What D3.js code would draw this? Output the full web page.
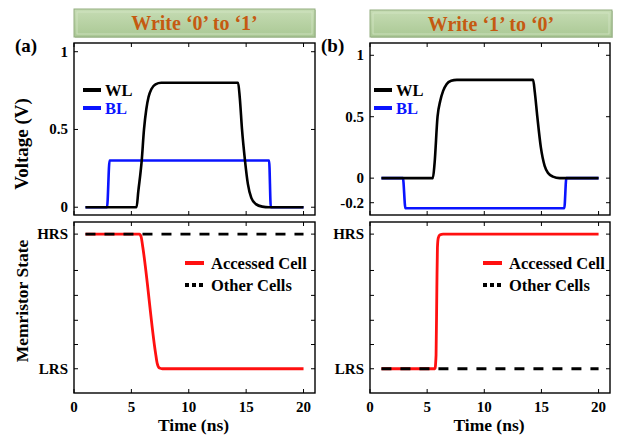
<!DOCTYPE html>
<html><head><meta charset="utf-8">
<script src="https://cdn.jsdelivr.net/npm/d3@7"></script>
<style>body{margin:0;background:#fff}svg{display:block}text{font-family:"Liberation Serif","Times New Roman",serif;font-weight:bold}</style>
</head><body>
<svg id="c" width="618" height="438"></svg>
<script>
// ---- data ----
const titles = ["Write \u20180\u2019 to \u20181\u2019", "Write \u20181\u2019 to \u20180\u2019"];
const panelLabels = ["(a)", "(b)"];
const xTicks = [0, 5, 10, 15, 20];
const vTicksA = [0, 0.5, 1];
const vTicksB = [-0.2, 0, 0.5, 1];
const stateTicks = [0, 1];
const stateTickLabels = ["LRS", "HRS"];
const stateMinorTicks = [0.18, 0.36, 0.545, 0.73];
// voltage waveforms [time ns, V]
const wlA = [[1,0],[5.45,0],[5.6,0.1],[5.9,0.3],[6.1,0.5],[6.3,0.63],[6.5,0.71],[6.75,0.76],[7.1,0.79],[7.6,0.8],[14.3,0.8],[14.45,0.7],[14.64,0.5],[14.9,0.3],[15.15,0.15],[15.45,0.06],[15.85,0.02],[16.4,0.004],[17,0],[20,0]];
const blA = [[1,0],[2.88,0],[3.1,0.3],[17.0,0.3],[17.15,0],[20,0]];
const wlB = [[1,0],[5.5,0],[5.65,0.12],[5.91,0.5],[6.15,0.63],[6.4,0.71],[6.7,0.765],[7.1,0.792],[7.6,0.8],[14.27,0.8],[14.42,0.7],[14.64,0.5],[14.95,0.25],[15.28,0.1],[15.6,0.04],[16.0,0.012],[16.6,0],[20,0]];
const blB = [[1,0],[2.88,0],[3.1,-0.245],[17.0,-0.245],[17.18,0],[20,0]];
// memristor state [time ns, state 0=LRS 1=HRS]
const accA = [[1,1],[5.7,1],[5.85,0.98],[6.0,0.9],[7.1,0.12],[7.25,0.04],[7.45,0.005],[7.7,0],[20,0]];
const othA = [[1,1],[20,1]];
const accB = [[1,0],[5.68,0],[5.78,0.1],[5.85,0.6],[5.9,0.9],[5.97,0.97],[6.1,0.993],[6.4,1],[20,1]];
const othB = [[1,0],[20,0]];
const legendTop = ["WL", "BL"];
const legendBottom = ["Accessed Cell", "Other Cells"];

const svg = d3.select("#c");
const defs = svg.append("defs");
const g = defs.append("linearGradient").attr("id","tg").attr("x1",0).attr("y1",0).attr("x2",0).attr("y2",1);
g.append("stop").attr("offset","0%").attr("stop-color","#c6dcb4");
g.append("stop").attr("offset","100%").attr("stop-color","#aac894");

const panels = [
  {x0:74, x1:315, vDom:[-0.05,1.056], vTicks:vTicksA, wl:wlA, bl:blA, acc:accA, oth:othA, tbox:[74,9,241,28], lbl:[15,52], legX:83, legBX:185},
  {x0:370, x1:610, vDom:[-0.3,1.1], vTicks:vTicksB, wl:wlB, bl:blB, acc:accB, oth:othB, tbox:[370,10,242,27], lbl:[321,52], legX:374, legBX:483}
];
const topY = [43,215], botY=[222,393];

function frame(x0,x1,y0,y1){
  svg.append("rect").attr("x",x0).attr("y",y0).attr("width",x1-x0).attr("height",y1-y0)
    .attr("fill","none").attr("stroke","#000").attr("stroke-width",1.4);
}
function ticksX(x, vals, y0, y1){
  vals.forEach(v=>{
    svg.append("line").attr("x1",x(v)).attr("x2",x(v)).attr("y1",y1).attr("y2",y1-4).attr("stroke","#000").attr("stroke-width",1);
    svg.append("line").attr("x1",x(v)).attr("x2",x(v)).attr("y1",y0).attr("y2",y0+4).attr("stroke","#000").attr("stroke-width",1);
  });
}
function ticksY(y, vals, x0, x1){
  vals.forEach(v=>{
    svg.append("line").attr("x1",x0).attr("x2",x0+4).attr("y1",y(v)).attr("y2",y(v)).attr("stroke","#000").attr("stroke-width",1);
    svg.append("line").attr("x1",x1).attr("x2",x1-4).attr("y1",y(v)).attr("y2",y(v)).attr("stroke","#000").attr("stroke-width",1);
  });
}

panels.forEach((p,i)=>{
  const x = d3.scaleLinear().domain([0,21]).range([p.x0,p.x1]);
  const yv = d3.scaleLinear().domain(p.vDom).range([topY[1],topY[0]]);
  const ys = d3.scaleLinear().domain([-0.18,1.09]).range([botY[1],botY[0]]);
  const lineV = d3.line().x(d=>x(d[0])).y(d=>yv(d[1])).curve(d3.curveMonotoneX);
  const lineS = d3.line().x(d=>x(d[0])).y(d=>ys(d[1])).curve(d3.curveMonotoneX);

  // title box
  const [bx,by,bw,bh] = p.tbox;
  svg.append("rect").attr("x",bx+1).attr("y",by+1).attr("width",bw).attr("height",bh).attr("fill","#c9d6bf");
  svg.append("rect").attr("x",bx).attr("y",by).attr("width",bw).attr("height",bh).attr("fill","url(#tg)").attr("stroke","#93ad80").attr("stroke-width",1);
  svg.append("rect").attr("x",bx+3).attr("y",by+3).attr("width",bw-6).attr("height",bh-6).attr("fill","none").attr("stroke","#d3e5c5").attr("stroke-width",1).attr("opacity",0.8);
  svg.append("text").attr("x",bx+bw/2).attr("y",by+bh/2+7).attr("text-anchor","middle").attr("font-size",20).attr("fill","#c55a11").text(titles[i]);
  svg.append("text").attr("x",p.lbl[0]).attr("y",p.lbl[1]).attr("font-size",19).attr("fill","#000").text(panelLabels[i]);

  // top panel
  frame(p.x0,p.x1,topY[0],topY[1]);
  ticksX(x, xTicks, topY[0], topY[1]);
  ticksY(yv, p.vTicks, p.x0, p.x1);
  p.vTicks.forEach(v=>{
    svg.append("text").attr("x",p.x0-6).attr("y",yv(v)+5).attr("text-anchor","end").attr("font-size",15).text(v);
  });
  svg.append("path").attr("d",lineV(p.bl)).attr("fill","none").attr("stroke","#0a14ff").attr("stroke-width",2.6);
  svg.append("path").attr("d",lineV(p.wl)).attr("fill","none").attr("stroke","#000").attr("stroke-width",2.6);
  // top legend
  const lcol = ["#000","#0a14ff"];
  legendTop.forEach((t,k)=>{
    const ly = 90 + k*18;
    svg.append("line").attr("x1",p.legX).attr("x2",p.legX+18).attr("y1",ly).attr("y2",ly).attr("stroke",lcol[k]).attr("stroke-width",4);
    svg.append("text").attr("x",p.legX+22).attr("y",ly+5.5).attr("font-size",16.5).attr("fill",lcol[k]).text(t);
  });

  // bottom panel
  frame(p.x0,p.x1,botY[0],botY[1]);
  ticksX(x, xTicks, botY[0], botY[1]);
  ticksY(ys, stateTicks.concat(stateMinorTicks), p.x0, p.x1);
  stateTicks.forEach((v,k)=>{
    svg.append("text").attr("x",p.x0-6).attr("y",ys(v)+5).attr("text-anchor","end").attr("font-size",15).text(stateTickLabels[k]);
  });
  xTicks.forEach(v=>{
    svg.append("text").attr("x",x(v)).attr("y",412).attr("text-anchor","middle").attr("font-size",15).text(v);
  });
  svg.append("text").attr("x",(x(0)+x(21))/2 - 1).attr("y",431).attr("text-anchor","middle").attr("font-size",17.5).text("Time (ns)");
  svg.append("path").attr("d",lineS(p.acc)).attr("fill","none").attr("stroke","#ff1010").attr("stroke-width",2.8);
  svg.append("path").attr("d",lineS(p.oth)).attr("fill","none").attr("stroke","#000").attr("stroke-width",2.8).attr("stroke-dasharray","10,9");
  // bottom legend
  legendBottom.forEach((t,k)=>{
    const ly = 263 + k*22;
    svg.append("line").attr("x1",p.legBX).attr("x2",p.legBX+19).attr("y1",ly).attr("y2",ly)
      .attr("stroke",k===0?"#ff1010":"#000").attr("stroke-width",4).attr("stroke-dasharray",k===0?null:"4,3");
    svg.append("text").attr("x",p.legBX+26).attr("y",ly+5.5).attr("font-size",16.5).attr("font-weight","600").text(t);
  });
});
// y axis titles
svg.append("text").attr("transform","translate(28,144) rotate(-90)").attr("text-anchor","middle").attr("font-size",19).text("Voltage  (V)");
svg.append("text").attr("transform","translate(28,301) rotate(-90)").attr("text-anchor","middle").attr("font-size",17.5).text("Memristor State");
</script>
</body></html>
